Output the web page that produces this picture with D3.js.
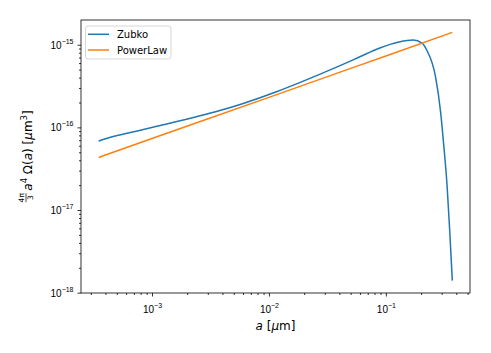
<!DOCTYPE html>
<html>
<head>
<meta charset="utf-8">
<script src="https://cdn.jsdelivr.net/npm/d3@7"></script>
<style>
  body { margin: 0; background: #fff; }
  svg { font-family: "DejaVu Sans", sans-serif; }
</style>
</head>
<body>
<div id="chart"></div>
<script>
// grain size a [um] and (4pi/3) a^4 Omega(a)
var zubko_a = [3.5e-4, 4.41e-4, 5.73e-4, 1.10e-3, 3.81e-3, 6.03e-3, 1.16e-2, 1.83e-2, 2.71e-2,
  4.01e-2, 5.93e-2, 8.77e-2, 0.1298, 0.171, 0.205, 0.224, 0.2665, 0.294, 0.313, 0.334, 0.351, 0.37];
var zubko_val = [6.83e-17, 7.6e-17, 8.3e-17, 1.03e-16, 1.6e-16, 1.95e-16, 2.7e-16, 3.48e-16, 4.38e-16,
  5.55e-16, 7.1e-16, 9.08e-16, 1.08e-15, 1.14e-15, 1.04e-15, 8.57e-16, 4.03e-16, 1.52e-16, 5.93e-17, 1.94e-17, 5.8e-18, 1.4e-18];

var power_a = [3.5e-4, 1e-3, 1e-2, 1e-1, 0.37];
var power_val = [4.33e-17, 7.32e-17, 2.31e-16, 7.32e-16, 1.41e-15];

var series_names = ['Zubko', 'PowerLaw'];
var series_colors = ['#1f77b4', '#ff7f0e'];

var x_ticks = [1e-3, 1e-2, 1e-1];
var y_ticks = [1e-18, 1e-17, 1e-16, 1e-15];

var chart_width = 491;
var chart_height = 353;
var plot_left = 81, plot_right = 470, plot_top = 20, plot_bottom = 293;

var series = [
  zubko_a.map(function(a, i) { return {a: a, v: zubko_val[i]}; }),
  power_a.map(function(a, i) { return {a: a, v: power_val[i]}; })
];

// matplotlib style 5% margins in log space
function logDomain(values) {
  var lo = Math.log10(d3.min(values)), hi = Math.log10(d3.max(values));
  var m = (hi - lo) * 0.05;
  return [Math.pow(10, lo - m), Math.pow(10, hi + m)];
}

var all_a = zubko_a.concat(power_a);
var all_v = zubko_val.concat(power_val);

var x_scale = d3.scaleLog().domain(logDomain(all_a)).range([plot_left, plot_right]);
var y_scale = d3.scaleLog().domain(logDomain(all_v)).range([plot_bottom, plot_top]);

var svg = d3.select('#chart')
  .append('svg')
  .attr('width', chart_width)
  .attr('height', chart_height);

// minor ticks
function minorTicks(scale) {
  var d = scale.domain(), out = [];
  for (var e = Math.floor(Math.log10(d[0])); e <= Math.ceil(Math.log10(d[1])); e++) {
    for (var k = 2; k <= 9; k++) {
      var t = k * Math.pow(10, e);
      if (t >= d[0] && t <= d[1]) out.push(t);
    }
  }
  return out;
}

function supLabels(sel) {
  sel.selectAll('.tick text').each(function(d) {
    var t = d3.select(this);
    var p = Math.round(Math.log10(d));
    t.text(null);
    t.append('tspan').text('10');
    t.append('tspan').attr('dy', -5).attr('font-size', '7px').text('\u2212' + Math.abs(p));
  });
}

function styleAxis(g) {
  g.select('.domain').remove();
  g.selectAll('.tick line').attr('stroke', '#000').attr('stroke-width', 0.8);
  g.selectAll('.tick text').attr('fill', '#000').attr('font-size', '10px');
}

svg.append('g')
  .attr('transform', 'translate(0,' + plot_bottom + ')')
  .call(d3.axisBottom(x_scale).tickValues(minorTicks(x_scale)).tickSize(2).tickFormat(''))
  .call(styleAxis);
svg.append('g')
  .attr('transform', 'translate(' + plot_left + ',0)')
  .call(d3.axisLeft(y_scale).tickValues(minorTicks(y_scale)).tickSize(2).tickFormat(''))
  .call(styleAxis);

var gx = svg.append('g')
  .attr('transform', 'translate(0,' + plot_bottom + ')')
  .call(d3.axisBottom(x_scale).tickValues(x_ticks).tickSize(3.5).tickPadding(5).tickFormat(function() { return ''; }))
  .call(styleAxis);
gx.selectAll('.tick text').attr('dy', '1.15em');
supLabels(gx);

var gy = svg.append('g')
  .attr('transform', 'translate(' + plot_left + ',0)')
  .call(d3.axisLeft(y_scale).tickValues(y_ticks).tickSize(3.5).tickPadding(4).tickFormat(function() { return ''; }))
  .call(styleAxis);
gy.selectAll('.tick text').attr('dy', '0.35em');
supLabels(gy);

// lines
var line = d3.line()
  .x(function(d) { return x_scale(d.a); })
  .y(function(d) { return y_scale(d.v); })
  .curve(d3.curveMonotoneX);

svg.selectAll('path.series')
  .data(series)
  .enter()
  .append('path')
  .attr('class', 'series')
  .attr('d', line)
  .attr('fill', 'none')
  .attr('stroke', function(d, i) { return series_colors[i]; })
  .attr('stroke-width', 1.5);

// frame
svg.append('rect')
  .attr('x', plot_left).attr('y', plot_top)
  .attr('width', plot_right - plot_left).attr('height', plot_bottom - plot_top)
  .attr('fill', 'none').attr('stroke', '#000').attr('stroke-width', 0.8);

// legend
var legend = svg.append('g');
legend.append('rect')
  .attr('x', 85.5).attr('y', 26).attr('width', 85.5).attr('height', 33)
  .attr('rx', 2.5)
  .attr('fill', '#fff').attr('fill-opacity', 0.8)
  .attr('stroke', '#cccccc').attr('stroke-width', 0.8);
series_names.forEach(function(name, i) {
  var y = 34.3 + i * 15.7;
  legend.append('line')
    .attr('x1', 88).attr('x2', 109).attr('y1', y).attr('y2', y)
    .attr('stroke', series_colors[i]).attr('stroke-width', 1.5);
  legend.append('text')
    .attr('x', 117).attr('y', y + 3.7)
    .attr('font-size', '10px').attr('fill', '#000')
    .text(name);
});

// x label
var xl = svg.append('text')
  .attr('x', (plot_left + plot_right) / 2).attr('y', 330)
  .attr('text-anchor', 'middle').attr('font-size', '12px').attr('fill', '#000');
xl.append('tspan').attr('font-style', 'italic').text('a');
xl.append('tspan').text(' [');
xl.append('tspan').attr('font-style', 'italic').text('\u03bc');
xl.append('tspan').text('m]');

// y label: (4pi/3) a^4 Omega(a) [um^3]
var yl = svg.append('g');
yl.append('text').attr('font-size', '7.5px').attr('text-anchor', 'middle')
  .attr('x', 5).attr('y', -7.8).text('4\u03c0');
yl.append('line').attr('x1', 0.5).attr('x2', 9.5).attr('y1', -5.5).attr('y2', -5.5)
  .attr('stroke', '#000').attr('stroke-width', 0.7);
yl.append('text').attr('font-size', '7.5px').attr('text-anchor', 'middle')
  .attr('x', 5).attr('y', 1.5).text('3');
var ym = yl.append('text').attr('x', 12).attr('y', 0).attr('font-size', '12px').attr('fill', '#000');
ym.append('tspan').attr('font-style', 'italic').text('a');
ym.append('tspan').attr('font-size', '8.5px').attr('dy', -5).text('4');
ym.append('tspan').attr('dy', 5).text(' \u03a9(');
ym.append('tspan').attr('font-style', 'italic').text('a');
ym.append('tspan').text(') [');
ym.append('tspan').attr('font-style', 'italic').text('\u03bc');
ym.append('tspan').text('m');
ym.append('tspan').attr('font-size', '8.5px').attr('dy', -5).text('3');
ym.append('tspan').attr('dy', 5).text(']');

var total = 12 + ym.node().getComputedTextLength();
yl.attr('transform', 'translate(31.5,' + ((plot_top + plot_bottom) / 2 + total / 2) + ') rotate(-90)');
</script>
</body>
</html>
